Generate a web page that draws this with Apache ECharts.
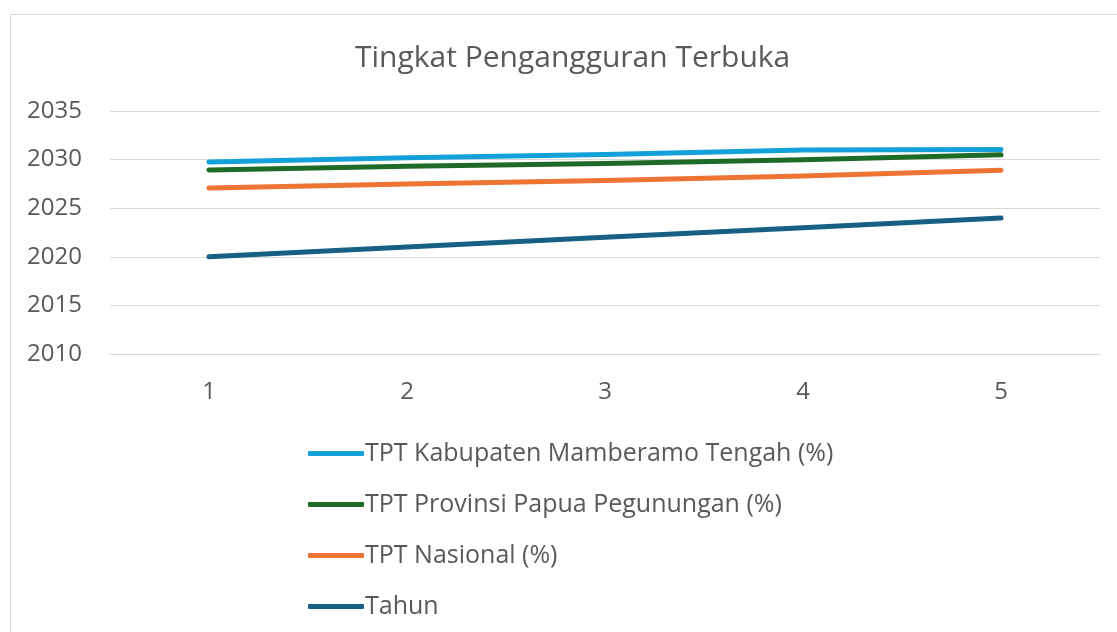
<!DOCTYPE html>
<html>
<head>
<meta charset="utf-8">
<script src="https://cdn.jsdelivr.net/npm/echarts@6/dist/echarts.min.js"></script>
<style>
html,body{margin:0;padding:0;background:#fff;}
#c{width:1117px;height:632px;}
</style>
</head>
<body>
<div id="c"></div>
<script>
const categories = ['1', '2', '3', '4', '5'];
const tahun = [2020, 2021, 2022, 2023, 2024];
const tptNasional = [7.07, 6.49, 5.86, 5.32, 4.91];
const tptProvinsi = [1.86, 1.82, 1.73, 1.66, 1.58];
const tptKabupaten = [0.82, 0.89, 0.93, 1.00, 0.56];
const yTicks = { min: 2010, max: 2035, interval: 5 };

const names = {
  kab: 'TPT Kabupaten Mamberamo Tengah (%)',
  prov: 'TPT Provinsi Papua Pegunungan (%)',
  nas: 'TPT Nasional (%)',
  thn: 'Tahun'
};
const colors = { kab: '#14A0D8', prov: '#1D6B26', nas: '#ED7432', thn: '#185F84' };
const font = '"Open Sans", "Noto Sans", sans-serif';
const textColor = '#595959';

function lineSeries(name, data, color) {
  return {
    name: name, type: 'line', stack: 'total', data: data,
    symbol: 'none', smooth: false,
    lineStyle: { width: 5, color: color, cap: 'round', join: 'round' },
    itemStyle: { color: color }
  };
}

const chart = echarts.init(document.getElementById('c'), null, { renderer: 'canvas' });
chart.setOption({
  animation: false,
  backgroundColor: '#fff',
  graphic: [{
    type: 'rect', silent: true, z: -1,
    shape: { x: 10.5, y: 14.5, width: 1130, height: 640 },
    style: { fill: 'none', stroke: '#d9d9d9', lineWidth: 1 }
  }],
  title: {
    text: 'Tingkat Pengangguran Terbuka',
    left: 350, top: 38,
    textStyle: { fontFamily: font, fontSize: 30, fontWeight: 'normal', color: textColor }
  },
  legend: {
    orient: 'vertical', left: 303, top: 436,
    itemWidth: 56, itemHeight: 5, itemGap: 26,
    icon: 'roundRect',
    data: [names.kab, names.prov, names.nas, names.thn],
    textStyle: { fontFamily: font, fontSize: 25, color: textColor, padding: [0, 0, 0, -4] }
  },
  grid: { left: 110, right: 17, top: 111, bottom: 278, containLabel: false },
  xAxis: {
    type: 'category', data: categories, boundaryGap: true,
    axisLine: { show: true, lineStyle: { color: '#d9d9d9', width: 1 } },
    axisTick: { show: false },
    axisLabel: { fontFamily: font, fontSize: 24, color: textColor, margin: 26 }
  },
  yAxis: {
    type: 'value', min: yTicks.min, max: yTicks.max, interval: yTicks.interval,
    axisLine: { show: false }, axisTick: { show: false },
    splitLine: { lineStyle: { color: '#d9d9d9', width: 1 } },
    axisLabel: { fontFamily: font, fontSize: 24, color: textColor, margin: 28,
      formatter: function (v) { return String(v); } }
  },
  series: [
    lineSeries(names.thn, tahun, colors.thn),
    lineSeries(names.nas, tptNasional, colors.nas),
    lineSeries(names.prov, tptProvinsi, colors.prov),
    lineSeries(names.kab, tptKabupaten, colors.kab)
  ]
});
</script>
</body>
</html>
